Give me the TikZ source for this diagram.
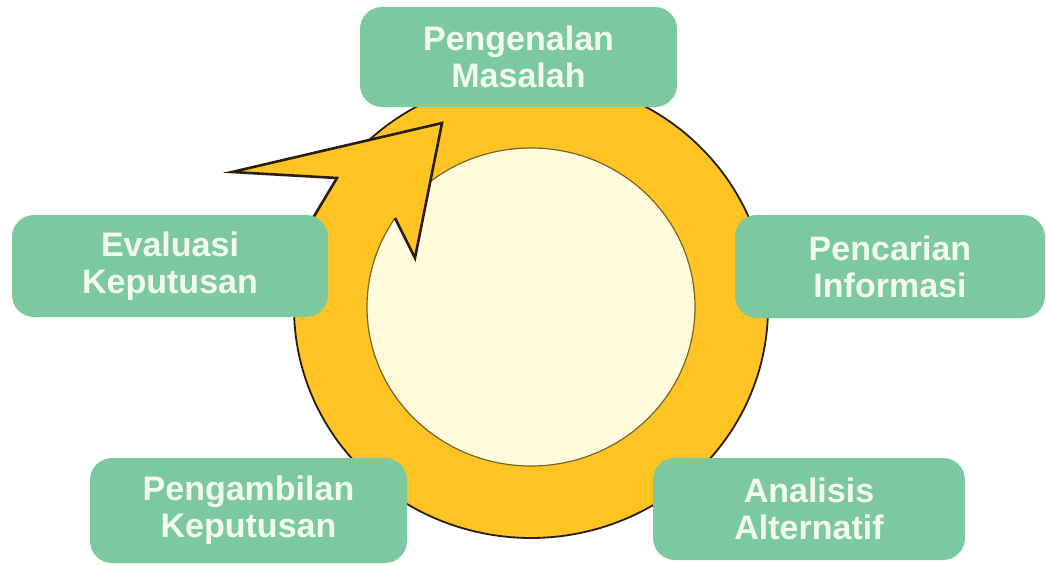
\documentclass[tikz,border=0pt]{standalone}
\usepackage{fontspec}
\setmainfont{Liberation Sans}
\definecolor{ringyellow}{RGB}{253,196,36}
\definecolor{creamfill}{RGB}{255,251,218}
\definecolor{boxgreen}{RGB}{124,201,160}
\definecolor{boxtext}{RGB}{242,250,236}
\definecolor{darkline}{RGB}{40,30,15}
\definecolor{innerline}{RGB}{120,100,40}
\tikzset{
  box/.style={fill=boxgreen, rounded corners=22pt, text=boxtext, align=center,
    inner sep=0pt, font=\bfseries\fontsize{34}{37}\selectfont},
  ringline/.style={draw=darkline, line width=1.8pt},
  arrowline/.style={draw=darkline, line width=2.6pt, line join=miter, miter limit=20},
}
\begin{document}
\begin{tikzpicture}[x=1pt,y=-1pt]
\useasboundingbox (0,0) rectangle (1046,565);
\fill[white] (0,0) rectangle (1046,565);
% ring body
\fill[ringyellow] plot[domain=227:563, samples=200, variable=\t] ({531+237*cos(\t)}, {308+230*sin(\t)}) -- (337,178) -- cycle;
\draw[ringline] plot[domain=227:563, samples=200, variable=\t] ({531+237*cos(\t)}, {308+230*sin(\t)});
% inner disc
\draw[innerline, line width=1.2pt, fill=creamfill] (531,307) ellipse [x radius=164pt, y radius=159pt];
% arrow head
\fill[ringyellow] (313,218) -- (337,178) -- (232,172) -- (442,123) -- (415,258) -- (395,218) -- cycle;
\draw[arrowline] (313,218) -- (337,178) -- (232,172) -- (442,123) -- (415,258) -- (395,218);
% boxes
\node[box, minimum width=317pt, minimum height=100pt] (masalah) at (518.5,57) {Pengenalan\\Masalah};
\node[box, minimum width=316pt, minimum height=102pt] (evaluasi) at (170,266) {Evaluasi\\Keputusan};
\node[box, minimum width=310pt, minimum height=103pt] (pencarian) at (890,266.5) {Pencarian\\Informasi};
\node[box, minimum width=317pt, minimum height=105pt] (pengambilan) at (248.5,510.5) {Pengambilan\\Keputusan};
\node[box, minimum width=312pt, minimum height=102pt] (analisis) at (809,509) {Analisis\\Alternatif};
\end{tikzpicture}
\end{document}
